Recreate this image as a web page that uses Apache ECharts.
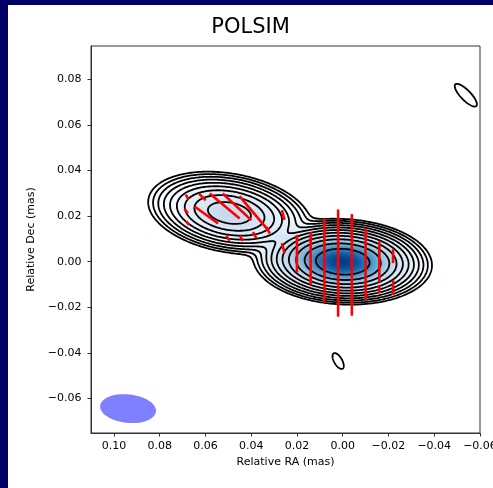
<!DOCTYPE html>
<html>
<head>
<meta charset="utf-8">
<script src="https://cdn.jsdelivr.net/npm/echarts@6/dist/echarts.min.js"></script>
<style>
  html, body { margin: 0; padding: 0; background: #000066; width: 493px; height: 488px; overflow: hidden; }
  #chart { position: absolute; left: 8px; top: 5px; width: 485px; height: 483px; background: #fff; }
</style>
</head>
<body>
<div id="chart"></div>
<script>
// axis ranges and ticks (mas)
var xLo = -0.06, xHi = 0.110;
var yLo = -0.0752, yHi = 0.0947;
var xTicks = [0.10, 0.08, 0.06, 0.04, 0.02, 0.00, -0.02, -0.04, -0.06];
var yTicks = [-0.06, -0.04, -0.02, 0.00, 0.02, 0.04, 0.06, 0.08];

// total intensity model: core (east) and knot (west)
var compRA = [0.0, 0.0495];
var compDec = [0.0, 0.0214];
var compPeak = [1.0, 0.19];
var compMajor = [0.0100, 0.0104];
var compMinor = [0.0048, 0.0050];
var compTilt = [3, 10];

// contour levels, fraction of peak
var contourLevels = [0.5, 0.25, 0.125, 0.0625, 0.03125, 0.015625, 0.0078125,
  0.00390625, 0.001953125, 0.0009765625, 0.00048828125];

// polarised intensity (colour fill)
var fillRA = [0.0, 0.049, 0.024];
var fillDec = [0.0, 0.021, 0.006];
var fillPeak = [1.0, 0.27, 0.10];
var fillMajor = [0.0135, 0.013, 0.009];
var fillMinor = [0.0066, 0.0065, 0.007];
var fillTilt = [3, 10, 20];

// isolated noise contours: ra, dec, semi-major, semi-minor, tilt
var noiseRA = [-0.0538, 0.0020];
var noiseDec = [0.0731, -0.0436];
var noiseA = [0.0066, 0.0039];
var noiseB = [0.0022, 0.00175];
var noiseTilt = [46, 60];

// restoring beam
var beamRA = [0.0938];
var beamDec = [-0.0645];
var beamA = [0.01225];
var beamB = [0.00627];
var beamTilt = [6];

// polarisation vectors: centre ra, dec, length, EVPA (deg)
var vecRA = [0.026, 0.026, 0.020, 0.014, 0.008, 0.002, -0.004, -0.010, -0.016, -0.016, -0.022, -0.022,
  0.0596, 0.0516, 0.0462, 0.0389,
  0.0680, 0.0684, 0.0678, 0.0613, 0.0502, 0.0443, 0.0385, 0.0327];
var vecDec = [0.0205, 0.0060, 0.0035, 0.0014, 0.0005, -0.0006, -0.0014, -0.0010, 0.0000, -0.0120, 0.0024, -0.0113,
  0.0205, 0.0245, 0.0241, 0.0214,
  0.0284, 0.0222, 0.0170, 0.0284, 0.0103, 0.0103, 0.0117, 0.0139];
var vecLen = [0.0044, 0.0044, 0.0165, 0.0231, 0.0371, 0.0471, 0.0446, 0.0315, 0.0177, 0.0035, 0.0061, 0.0066,
  0.0127, 0.0171, 0.0171, 0.0193,
  0.0024, 0.0026, 0.0022, 0.0040, 0.0027, 0.0027, 0.0030, 0.0035];
var vecEvpa = [15, 15, 0, 0, 0, 0, 0, 0, 0, 0, 0, 0,
  54, 50, 47, 40,
  30, 35, 35, 45, 30, 30, 30, 30];

function gaussSum(x, y, ra, dec, peak, maj, min, tilt) {
  var s = 0;
  for (var k = 0; k < ra.length; k++) {
    var t = tilt[k] * Math.PI / 180;
    var dx = x - ra[k], dy = y - dec[k];
    var u = dx * Math.cos(t) + dy * Math.sin(t);
    var v = -dx * Math.sin(t) + dy * Math.cos(t);
    s += peak[k] * Math.exp(-0.5 * (u * u / (maj[k] * maj[k]) + v * v / (min[k] * min[k])));
  }
  return s;
}

// sample the model on a grid
var N = 300;
var gx = [], gy = [], gv = [];
for (var i = 0; i <= N; i++) gx.push(xLo + (xHi - xLo) * i / N);
for (var j = 0; j <= N; j++) gy.push(yLo + (yHi - yLo) * j / N);
for (j = 0; j <= N; j++) {
  var row = [];
  for (i = 0; i <= N; i++) row.push(gaussSum(gx[i], gy[j], compRA, compDec, compPeak, compMajor, compMinor, compTilt));
  gv.push(row);
}

// marching squares, stitched into polylines
function traceLevel(L) {
  var pts = {}, adj = {};
  function ep(key, xa, ya, va, xb, yb, vb) {
    if (!pts[key]) {
      var t = (L - va) / (vb - va);
      pts[key] = [xa + t * (xb - xa), ya + t * (yb - ya)];
    }
    return key;
  }
  function link(a, b) {
    (adj[a] = adj[a] || []).push(b);
    (adj[b] = adj[b] || []).push(a);
  }
  for (var j = 0; j < N; j++) {
    for (var i = 0; i < N; i++) {
      var v0 = gv[j][i], v1 = gv[j][i + 1], v2 = gv[j + 1][i + 1], v3 = gv[j + 1][i];
      var c = (v0 > L ? 1 : 0) | (v1 > L ? 2 : 0) | (v2 > L ? 4 : 0) | (v3 > L ? 8 : 0);
      if (c === 0 || c === 15) continue;
      var E = function (e) {
        if (e === 0) return ep('h' + i + '_' + j, gx[i], gy[j], v0, gx[i + 1], gy[j], v1);
        if (e === 1) return ep('v' + (i + 1) + '_' + j, gx[i + 1], gy[j], v1, gx[i + 1], gy[j + 1], v2);
        if (e === 2) return ep('h' + i + '_' + (j + 1), gx[i], gy[j + 1], v3, gx[i + 1], gy[j + 1], v2);
        return ep('v' + i + '_' + j, gx[i], gy[j], v0, gx[i], gy[j + 1], v3);
      };
      var centre = (v0 + v1 + v2 + v3) / 4;
      var segs;
      switch (c) {
        case 1: case 14: segs = [[3, 0]]; break;
        case 2: case 13: segs = [[0, 1]]; break;
        case 3: case 12: segs = [[3, 1]]; break;
        case 4: case 11: segs = [[1, 2]]; break;
        case 6: case 9: segs = [[0, 2]]; break;
        case 7: case 8: segs = [[2, 3]]; break;
        case 5: segs = centre > L ? [[0, 1], [2, 3]] : [[3, 0], [1, 2]]; break;
        case 10: segs = centre > L ? [[3, 0], [1, 2]] : [[0, 1], [2, 3]]; break;
      }
      segs.forEach(function (s) { link(E(s[0]), E(s[1])); });
    }
  }
  var seen = {}, out = [];
  function walk(start) {
    var chain = [start], cur = start;
    seen[start] = 1;
    while (true) {
      var nb = adj[cur].filter(function (k) { return !seen[k]; });
      if (!nb.length) break;
      cur = nb[0];
      seen[cur] = 1;
      chain.push(cur);
    }
    return chain;
  }
  var keys = Object.keys(adj);
  keys.forEach(function (k) { if (!seen[k] && adj[k].length === 1) out.push({ keys: walk(k), closed: false }); });
  keys.forEach(function (k) { if (!seen[k]) out.push({ keys: walk(k), closed: true }); });
  return out.map(function (ch) {
    var p = ch.keys.map(function (k) { return pts[k]; });
    if (ch.closed) p.push(p[0]);
    return p;
  });
}

var contourPaths = [];
contourLevels.forEach(function (L) {
  traceLevel(L).forEach(function (p) { contourPaths.push(p); });
});

// Blues colormap
var bluesStops = ['#f7fbff', '#deebf7', '#c6dbef', '#9ecae1', '#6baed6', '#4292c6', '#2171b5', '#08519c', '#08306b'];
function hexRgb(h) { return [parseInt(h.substr(1, 2), 16), parseInt(h.substr(3, 2), 16), parseInt(h.substr(5, 2), 16)]; }
var bluesRgb = bluesStops.map(hexRgb);
function blues(t) {
  t = Math.max(0, Math.min(1, t)) * 8;
  var k = Math.min(7, Math.floor(t)), f = t - k;
  var a = bluesRgb[k], b = bluesRgb[k + 1];
  return [a[0] + (b[0] - a[0]) * f, a[1] + (b[1] - a[1]) * f, a[2] + (b[2] - a[2]) * f];
}

var fillCanvas = document.createElement('canvas');
var FW = 340, FH = 340;
fillCanvas.width = FW; fillCanvas.height = FH;
(function () {
  var ctx = fillCanvas.getContext('2d');
  var img = ctx.createImageData(FW, FH);
  for (var r = 0; r < FH; r++) {
    var dec = yHi - (yHi - yLo) * (r + 0.5) / FH;
    for (var c = 0; c < FW; c++) {
      var ra = xHi - (xHi - xLo) * (c + 0.5) / FW;
      var v = gaussSum(ra, dec, fillRA, fillDec, fillPeak, fillMajor, fillMinor, fillTilt);
      var col = blues(v * 0.95);
      var o = (r * FW + c) * 4;
      img.data[o] = col[0]; img.data[o + 1] = col[1]; img.data[o + 2] = col[2];
      img.data[o + 3] = Math.round(255 * Math.min(1, v / 0.07));
    }
  }
  ctx.putImageData(img, 0, 0);
})();

function fmtTick(v) {
  var s = Math.abs(v) < 1e-9 ? '0.00' : v.toFixed(2);
  return s.replace('-', '\u2212');
}

function ellipsePoints(api, ra, dec, a, b, tiltDeg) {
  var t = tiltDeg * Math.PI / 180, pts = [];
  for (var k = 0; k <= 72; k++) {
    var f = k / 72 * Math.PI * 2;
    var u = a * Math.cos(f), w = b * Math.sin(f);
    pts.push(api.coord([ra + u * Math.cos(t) - w * Math.sin(t), dec + u * Math.sin(t) + w * Math.cos(t)]));
  }
  return pts;
}

var font = 'DejaVu Sans';
var axisCol = '#333';

var chart = echarts.init(document.getElementById('chart'));
chart.setOption({
  animation: false,
  backgroundColor: '#fff',
  title: {
    text: 'POLSIM', left: 'center', top: 7,
    textStyle: { fontFamily: font, fontSize: 21, fontWeight: 'normal', color: '#000' }
  },
  grid: {
    left: 83, top: 41, right: 13, bottom: 55, outerBoundsMode: 'none',
    show: true, borderColor: axisCol, borderWidth: 1
  },
  xAxis: {
    type: 'value', inverse: true, min: xLo, max: xHi,
    name: 'Relative RA (mas)', nameLocation: 'middle', nameGap: 23,
    nameTextStyle: { fontFamily: font, fontSize: 11, color: '#000' },
    axisLine: { show: true, onZero: false, lineStyle: { color: axisCol } },
    axisTick: { show: true, length: 3.5, customValues: xTicks, lineStyle: { color: axisCol } },
    axisLabel: { customValues: xTicks, formatter: fmtTick, margin: 8, fontFamily: font, fontSize: 11, color: '#000' },
    splitLine: { show: false }
  },
  yAxis: {
    type: 'value', min: yLo, max: yHi,
    name: 'Relative Dec (mas)', nameLocation: 'middle', nameGap: 42,
    nameTextStyle: { fontFamily: font, fontSize: 11, color: '#000' },
    axisLine: { show: true, onZero: false, lineStyle: { color: axisCol } },
    axisTick: { show: true, length: 3.5, customValues: yTicks, lineStyle: { color: axisCol } },
    axisLabel: { customValues: yTicks, formatter: fmtTick, margin: 9.5, fontFamily: font, fontSize: 11, color: '#000' },
    splitLine: { show: false }
  },
  series: [
    {
      type: 'custom', silent: true, z: 1, clip: true,
      data: [[0, 0]],
      renderItem: function (params, api) {
        var p1 = api.coord([xHi, yHi]), p2 = api.coord([xLo, yLo]);
        return { type: 'image', style: { image: fillCanvas, x: p1[0], y: p1[1], width: p2[0] - p1[0], height: p2[1] - p1[1] } };
      }
    },
    {
      type: 'custom', silent: true, z: 2, clip: true,
      data: contourPaths.map(function (p, k) { return [k, 0]; }),
      renderItem: function (params, api) {
        var pts = contourPaths[params.dataIndex].map(function (p) { return api.coord(p); });
        return { type: 'polyline', shape: { points: pts }, style: { stroke: '#000', lineWidth: 1.8, fill: null } };
      }
    },
    {
      type: 'custom', silent: true, z: 2, clip: true,
      data: noiseRA.map(function (r, k) { return [r, noiseDec[k], noiseA[k], noiseB[k], noiseTilt[k]]; }),
      renderItem: function (params, api) {
        var pts = ellipsePoints(api, api.value(0), api.value(1), api.value(2), api.value(3), api.value(4));
        return { type: 'polyline', shape: { points: pts }, style: { stroke: '#000', lineWidth: 1.8, fill: null } };
      }
    },
    {
      type: 'custom', silent: true, z: 3, clip: true,
      data: vecRA.map(function (r, k) { return [r, vecDec[k], vecLen[k], vecEvpa[k]]; }),
      renderItem: function (params, api) {
        var ra = api.value(0), dec = api.value(1), len = api.value(2), pa = api.value(3) * Math.PI / 180;
        var hx = 0.5 * len * Math.sin(pa), hy = 0.5 * len * Math.cos(pa);
        var a = api.coord([ra + hx, dec + hy]), b = api.coord([ra - hx, dec - hy]);
        return { type: 'line', shape: { x1: a[0], y1: a[1], x2: b[0], y2: b[1] }, style: { stroke: '#ff0000', lineWidth: 2.6 } };
      }
    },
    {
      type: 'custom', silent: true, z: 3, clip: true,
      data: beamRA.map(function (r, k) { return [r, beamDec[k], beamA[k], beamB[k], beamTilt[k]]; }),
      renderItem: function (params, api) {
        var pts = ellipsePoints(api, api.value(0), api.value(1), api.value(2), api.value(3), api.value(4));
        return { type: 'polygon', shape: { points: pts }, style: { fill: '#7f7fff', stroke: null } };
      }
    }
  ]
});
</script>
</body>
</html>
